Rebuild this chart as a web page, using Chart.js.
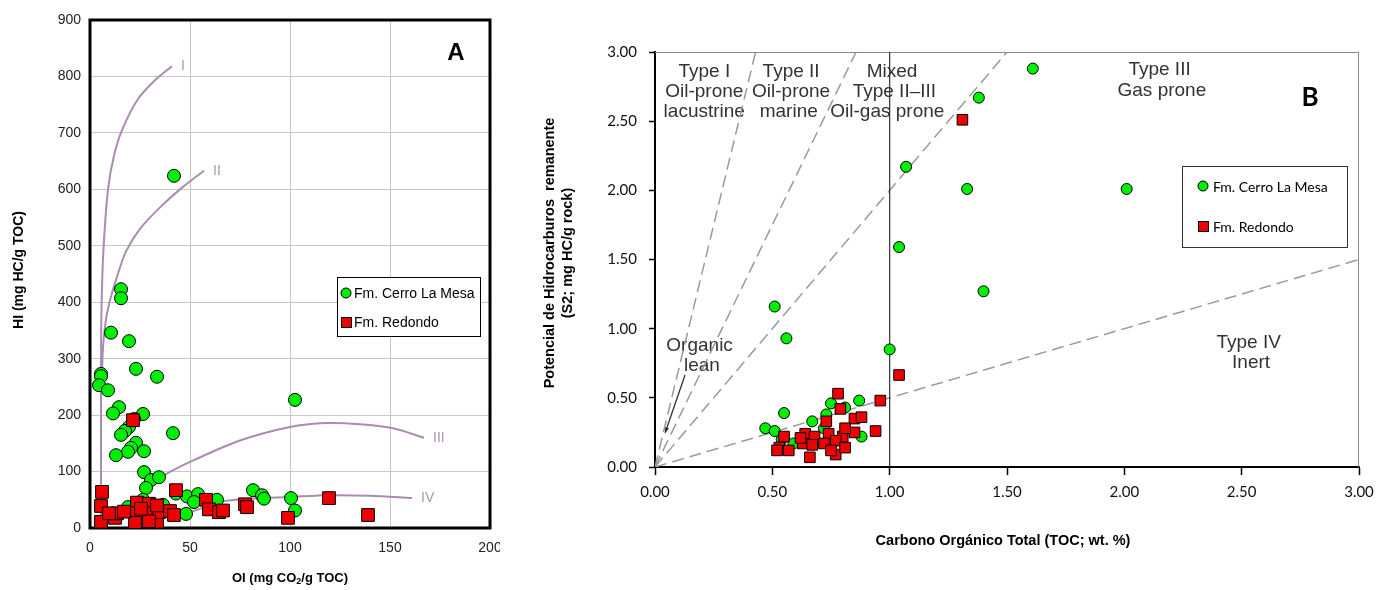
<!DOCTYPE html>
<html>
<head>
<meta charset="utf-8">
<script src="https://cdn.jsdelivr.net/npm/chart.js@4.4.1/dist/chart.umd.min.js"></script>
<style>
  html, body { margin: 0; padding: 0; background: #fff; }
  #wrap { position: relative; width: 1378px; height: 590px; }
  #cA { position: absolute; left: 0; top: 0; }
  #cB { position: absolute; left: 500px; top: 0; }
</style>
</head>
<body>
<div id="wrap">
  <canvas id="cA" width="500" height="590"></canvas>
  <canvas id="cB" width="878" height="590"></canvas>
</div>
<script>
// ---- Chart A: HI vs OI ----
const oiCerro = [42, 15.5, 15.5, 10.5, 19.5, 23, 33.5, 5.5, 5.5, 4.5, 9, 102.5, 14.5, 11.5, 26.5, 22, 19.5, 17.5, 15.5, 41.5,
  23, 20.5, 19, 27, 13, 27, 30.5, 34.5, 28, 43, 48.5, 54, 52, 63.5, 81.5, 86, 87, 100.5, 102.5, 48, 19, 26.5, 36.5];
const hiCerro = [624, 423, 407, 346, 331, 282, 268, 273, 269, 253, 244, 227, 214, 203, 202, 193, 179, 172, 165, 168,
  151, 142, 135, 136, 129, 99, 85, 90, 71, 61, 56, 60, 46, 50, 67, 58, 52, 53, 31, 25, 37, 50, 41];

const oiRedondo = [6, 43, 21.5, 5.5, 5.5, 12.5, 13.5, 9.5, 23.5, 29.5, 23.5, 28, 22.5, 33.5, 34.5, 40, 42, 33.5, 29.5,
  58, 59.5, 64.5, 66.5, 77.5, 78.5, 99, 119.5, 139, 25.5, 17];
const hiRedondo = [64, 67, 191, 39, 11, 18, 26, 26, 45, 43, 26, 26, 9, 11, 28, 30, 23, 40, 12,
  50, 33, 28, 31, 42, 37, 18, 53, 23, 34, 29];

// kerogen type curves
const curveI_OI = [5.5, 5.5, 5.6, 6.2, 7, 9, 12, 16, 24, 33, 41];
const curveI_HI = [0, 200, 350, 450, 510, 600, 660, 705, 760, 795, 818];
const curveII_OI = [5.8, 6.5, 8, 10.5, 13.5, 18, 25, 35, 46, 57];
const curveII_HI = [250, 320, 370, 410, 445, 490, 530, 568, 603, 633];
const curveIII_OI = [24, 28, 35, 50, 75, 100, 118, 135, 151, 167];
const curveIII_HI = [50, 67, 89, 117, 155, 179, 186, 184, 177, 160];
const curveIV_OI = [35, 50, 65, 80, 100, 120, 140, 161];
const curveIV_HI = [18, 28, 46, 52, 55, 58, 57, 53];
const curveNames = ['I', 'II', 'III', 'IV'];

// ---- Chart B: S2 vs TOC ----
const tocCerro = [1.61, 1.38, 1.07, 1.33, 2.01, 1.04, 1.40, 0.51, 0.56, 1.00, 0.55, 0.47, 0.51, 0.67, 0.75, 0.73, 0.72,
  0.81, 0.87, 0.88, 0.59, 0.54];
const s2Cerro = [2.88, 2.67, 2.17, 2.01, 2.01, 1.59, 1.27, 1.16, 0.93, 0.85, 0.39, 0.28, 0.26, 0.33, 0.46, 0.38, 0.28,
  0.43, 0.48, 0.22, 0.17, 0.20];

const tocRedondo = [1.31, 1.04, 0.78, 0.96, 0.79, 0.85, 0.88, 0.73, 0.94, 0.64, 0.68, 0.74, 0.80, 0.85, 0.81, 0.55,
  0.77, 0.63, 0.67, 0.72, 0.53, 0.57, 0.52, 0.66, 0.77, 0.81, 0.75, 0.62];
const s2Redondo = [2.51, 0.665, 0.53, 0.48, 0.42, 0.35, 0.36, 0.33, 0.26, 0.24, 0.22, 0.24, 0.22, 0.25, 0.28, 0.22,
  0.19, 0.17, 0.16, 0.17, 0.14, 0.12, 0.12, 0.07, 0.09, 0.14, 0.12, 0.21];

// boundary lines from the origin (HI 700, 350, 200, 50) - end points
const boundTOC = [0.4286, 0.857, 1.5, 3.0];
const boundS2 = [3.0, 3.0, 3.0, 1.5];

const GREEN = '#00ee00';
const RED = '#ee0000';
const CURVE = '#a98cb0';

function pts(xs, ys) {
  return xs.map((v, i) => ({ x: v, y: ys[i] }));
}

function fixedBox(w, h) {
  return function (scale) {
    if (w !== undefined) scale.width = w;
    if (h !== undefined) scale.height = h;
    scale.paddingLeft = 0; scale.paddingRight = 0;
    scale.paddingTop = 0; scale.paddingBottom = 0;
  };
}

// Chart A extras: frame, curve labels, legend, titles
const decoA = {
  id: 'decoA',
  beforeDatasetsDraw(chart) {
    const { ctx, chartArea: a } = chart;
    ctx.save();
    ctx.strokeStyle = '#000';
    ctx.lineWidth = 3;
    ctx.strokeRect(a.left, a.top, a.right - a.left, a.bottom - a.top);
    ctx.restore();
  },
  afterDraw(chart) {
    const { ctx, scales: { x, y } } = chart;
    ctx.save();
    // curve labels
    const ends = [[curveI_OI, curveI_HI], [curveII_OI, curveII_HI], [curveIII_OI, curveIII_HI], [curveIV_OI, curveIV_HI]];
    ctx.fillStyle = '#a898ae';
    ctx.font = '14px "Liberation Sans"';
    ctx.textBaseline = 'middle';
    ends.forEach((c, i) => {
      const n = c[0].length - 1;
      ctx.fillText(curveNames[i], x.getPixelForValue(c[0][n]) + 9, y.getPixelForValue(c[1][n]));
    });

    // panel letter
    ctx.fillStyle = '#000';
    ctx.font = 'bold 24px "Liberation Sans"';
    ctx.textAlign = 'center';
    ctx.fillText('A', 456, 53);

    // legend
    ctx.textAlign = 'left';
    ctx.fillStyle = '#fff';
    ctx.fillRect(337, 277, 143, 59);
    ctx.strokeStyle = '#000';
    ctx.lineWidth = 1;
    ctx.strokeRect(337.5, 277.5, 143, 59);
    ctx.beginPath();
    ctx.arc(346, 293, 5, 0, Math.PI * 2);
    ctx.fillStyle = GREEN; ctx.fill(); ctx.stroke();
    ctx.fillStyle = RED;
    ctx.fillRect(341, 317, 10, 10);
    ctx.strokeRect(341.5, 317.5, 10, 10);
    ctx.fillStyle = '#000';
    ctx.font = '14px "Liberation Sans"';
    ctx.fillText('Fm. Cerro La Mesa', 354, 294);
    ctx.fillText('Fm. Redondo', 354, 323);

    // axis titles
    ctx.font = 'bold 14px "Liberation Sans"';
    ctx.save();
    ctx.translate(19, 270);
    ctx.rotate(-Math.PI / 2);
    ctx.textAlign = 'center';
    ctx.fillText('HI (mg HC/g TOC)', 0, 0);
    ctx.restore();

    ctx.font = 'bold 13px "Liberation Sans"';
    const p1 = 'OI (mg CO', p2 = '2', p3 = '/g TOC)';
    const w1 = ctx.measureText(p1).width;
    const w3 = ctx.measureText(p3).width;
    ctx.font = 'bold 9px "Liberation Sans"';
    const w2 = ctx.measureText(p2).width;
    let sx = 290 - (w1 + w2 + w3) / 2;
    ctx.font = 'bold 13px "Liberation Sans"';
    ctx.fillText(p1, sx, 578);
    ctx.font = 'bold 9px "Liberation Sans"';
    ctx.fillText(p2, sx + w1, 582);
    ctx.font = 'bold 13px "Liberation Sans"';
    ctx.fillText(p3, sx + w1 + w2, 578);
    ctx.restore();
  }
};

const curveSets = [[curveI_OI, curveI_HI], [curveII_OI, curveII_HI], [curveIII_OI, curveIII_HI], [curveIV_OI, curveIV_HI]]
  .map(c => ({
    data: pts(c[0], c[1]), showLine: true, borderColor: CURVE, borderWidth: 2,
    pointRadius: 0, tension: 0.3, fill: false, order: 5
  }));

new Chart(document.getElementById('cA'), {
  type: 'scatter',
  data: {
    datasets: [
      { label: 'Fm. Cerro La Mesa', data: pts(oiCerro, hiCerro), pointStyle: 'circle', pointRadius: 6.5,
        backgroundColor: GREEN, borderColor: '#000', borderWidth: 1, order: 1 },
      { label: 'Fm. Redondo', data: pts(oiRedondo, hiRedondo), pointStyle: 'rect', pointRadius: 9,
        backgroundColor: RED, borderColor: '#000', borderWidth: 1, order: 0 },
      ...curveSets
    ]
  },
  options: {
    responsive: false,
    animation: false,
    layout: { padding: { left: 0, right: 10, top: 20, bottom: 0 } },
    plugins: { legend: { display: false }, tooltip: { enabled: false } },
    scales: {
      x: {
        type: 'linear', min: 0, max: 200,
        ticks: { stepSize: 50, color: '#222', font: { family: 'Liberation Sans', size: 14 }, padding: 12 },
        grid: { color: '#c8c8c8', drawTicks: false },
        border: { display: false },
        afterFit: fixedBox(undefined, 62)
      },
      y: {
        type: 'linear', min: 0, max: 900,
        ticks: { stepSize: 100, color: '#222', font: { family: 'Liberation Sans', size: 14 }, padding: 9 },
        grid: { color: '#c8c8c8', drawTicks: false },
        border: { display: false },
        afterFit: fixedBox(90, undefined)
      }
    }
  },
  plugins: [decoA]
});

// Chart B extras
const notesB = [
  ['Type I', 0.21, 2.86], ['Oil-prone', 0.21, 2.71], ['lacustrine', 0.21, 2.57],
  ['Type II', 0.58, 2.86], ['Oil-prone', 0.58, 2.71], ['marine', 0.57, 2.57],
  ['Mixed', 1.01, 2.86], ['Type II\u2013III', 1.02, 2.71], ['Oil-gas prone', 0.99, 2.57],
  ['Type III', 2.15, 2.87], ['Gas prone', 2.16, 2.72],
  ['Organic', 0.19, 0.88], ['lean', 0.20, 0.73],
  ['Type IV', 2.53, 0.90], ['Inert', 2.54, 0.75]
];

const decoB = {
  id: 'decoB',
  beforeDatasetsDraw(chart) {
    const { ctx, chartArea: a, scales: { x, y } } = chart;
    ctx.save();
    ctx.strokeStyle = '#888';
    ctx.lineWidth = 1;
    ctx.beginPath();
    ctx.moveTo(a.left, a.top + 0.5);
    ctx.lineTo(a.right - 0.5, a.top + 0.5);
    ctx.lineTo(a.right - 0.5, a.bottom);
    ctx.stroke();

    ctx.fillStyle = '#333';
    ctx.font = '19px "Liberation Sans"';
    ctx.textAlign = 'center';
    ctx.textBaseline = 'middle';
    notesB.forEach(n => ctx.fillText(n[0], x.getPixelForValue(n[1]), y.getPixelForValue(n[2])));

    // arrow of "Organic lean"
    const x0 = x.getPixelForValue(0.128), y0 = y.getPixelForValue(0.665);
    const x1 = x.getPixelForValue(0.043), y1 = y.getPixelForValue(0.246);
    ctx.strokeStyle = '#333';
    ctx.lineWidth = 1.3;
    ctx.beginPath(); ctx.moveTo(x0, y0); ctx.lineTo(x1, y1); ctx.stroke();
    const ang = Math.atan2(y1 - y0, x1 - x0);
    ctx.beginPath();
    ctx.moveTo(x1, y1);
    ctx.lineTo(x1 - 6 * Math.cos(ang - 0.4), y1 - 6 * Math.sin(ang - 0.4));
    ctx.lineTo(x1 - 6 * Math.cos(ang + 0.4), y1 - 6 * Math.sin(ang + 0.4));
    ctx.closePath();
    ctx.fillStyle = '#333';
    ctx.fill();
    ctx.restore();
  },
  afterDraw(chart) {
    const { ctx } = chart;
    const ox = 500; // canvas offset on page
    ctx.save();
    ctx.fillStyle = '#000';
    ctx.font = 'bold 26px "Lato"';
    ctx.textAlign = 'center';
    ctx.textBaseline = 'middle';
    ctx.fillText('B', 1310 - ox, 98);

    // legend
    ctx.fillStyle = '#fff';
    ctx.fillRect(1182 - ox, 166, 165, 81);
    ctx.strokeStyle = '#333';
    ctx.lineWidth = 1;
    ctx.strokeRect(1182.5 - ox, 166.5, 165, 81);
    ctx.strokeStyle = '#000';
    ctx.beginPath();
    ctx.arc(1203 - ox, 186, 5, 0, Math.PI * 2);
    ctx.fillStyle = GREEN; ctx.fill(); ctx.stroke();
    ctx.fillStyle = RED;
    ctx.fillRect(1198 - ox, 221, 10, 10);
    ctx.strokeRect(1198.5 - ox, 221.5, 10, 10);
    ctx.fillStyle = '#000';
    ctx.font = '14px "Lato"';
    ctx.textAlign = 'left';
    ctx.fillText('Fm. Cerro La Mesa', 1213 - ox, 187);
    ctx.fillText('Fm. Redondo', 1213 - ox, 227);

    // axis titles
    ctx.font = 'bold 14.5px "Liberation Sans"';
    ctx.textAlign = 'center';
    ctx.fillText('Carbono Org\u00e1nico Total (TOC; wt. %)', 1003 - ox, 541);
    ctx.save();
    ctx.translate(550 - ox, 253);
    ctx.rotate(-Math.PI / 2);
    ctx.fillText('Potencial de Hidrocarburos  remanente', 0, 0);
    ctx.fillText('(S2; mg HC/g rock)', 0, 18);
    ctx.restore();
    ctx.restore();
  }
};

const boundSets = boundTOC.map((t, i) => ({
  data: [{ x: 0, y: 0 }, { x: t, y: boundS2[i] }], showLine: true, borderColor: '#9a9a9a', borderWidth: 1.5,
  borderDash: [12, 6], pointRadius: 0, fill: false, order: 5
}));

new Chart(document.getElementById('cB'), {
  type: 'scatter',
  data: {
    datasets: [
      { label: 'Fm. Cerro La Mesa', data: pts(tocCerro, s2Cerro), pointStyle: 'circle', pointRadius: 5.5,
        backgroundColor: GREEN, borderColor: '#000', borderWidth: 1, order: 1 },
      { label: 'Fm. Redondo', data: pts(tocRedondo, s2Redondo), pointStyle: 'rect', pointRadius: 7.5,
        backgroundColor: RED, borderColor: '#000', borderWidth: 1, order: 0 },
      ...boundSets,
      { data: [{ x: 1, y: 0 }, { x: 1, y: 3 }], showLine: true, borderColor: '#333', borderWidth: 1.2,
        pointRadius: 0, fill: false, order: 4 }
    ]
  },
  options: {
    responsive: false,
    animation: false,
    layout: { padding: { left: 0, right: 19, top: 52, bottom: 0 } },
    plugins: { legend: { display: false }, tooltip: { enabled: false } },
    scales: {
      x: {
        type: 'linear', min: 0, max: 3,
        ticks: { stepSize: 0.5, color: '#111', font: { family: 'Lato', size: 15 }, padding: 8,
          callback: v => v.toFixed(2) },
        grid: { drawOnChartArea: false, drawTicks: true, tickLength: 8, tickColor: '#000', tickWidth: 1.5 },
        border: { color: '#000', width: 2 },
        afterFit: fixedBox(undefined, 123)
      },
      y: {
        type: 'linear', min: 0, max: 3,
        ticks: { stepSize: 0.5, color: '#111', font: { family: 'Lato', size: 15 }, padding: 12,
          callback: v => v.toFixed(2) },
        grid: { drawOnChartArea: false, drawTicks: true, tickLength: 6, tickColor: '#000', tickWidth: 1.5 },
        border: { color: '#000', width: 2 },
        afterFit: fixedBox(155, undefined)
      }
    }
  },
  plugins: [decoB]
});
</script>
</body>
</html>
